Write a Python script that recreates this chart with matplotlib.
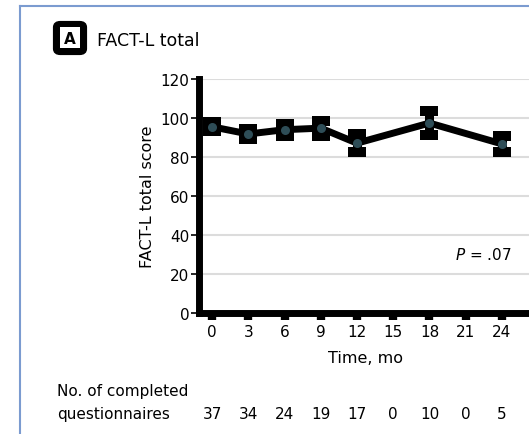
import matplotlib
matplotlib.use('Agg')
import matplotlib.pyplot as plt
import numpy as np
from matplotlib.patches import FancyBboxPatch, Rectangle
from matplotlib.lines import Line2D

# ---- data ----
months = [0, 3, 6, 9, 12, 18, 24]
scores = [95.5, 91.8, 94.0, 94.8, 87.1, 97.4, 86.7]
errors = [2.3, 2.6, 3.0, 3.8, 4.7, 6.2, 4.3]
tick_months = [0, 3, 6, 9, 12, 15, 18, 21, 24]
completed = [37, 34, 24, 19, 17, 0, 10, 0, 5]
yticks = [0, 20, 40, 60, 80, 100, 120]
title = "FACT-L total"
panel = "A"
ylabel = "FACT-L total score"
xlabel = "Time, mo"
pval = r"$P$ = .07"

W, H = 529, 435
DPI = 100
plt.rcParams['font.family'] = ['DejaVu Sans']
plt.rcParams['mathtext.fontset'] = 'dejavusans'
fig = plt.figure(figsize=(W / DPI, H / DPI), dpi=DPI)

def fx(px):
    return px / W

def fy(py):
    return 1 - py / H

# axes placement (pixels)
left_px, top_px, bottom_px = 199, 80, 314
x0, x1 = -1.08, 26.5
px_per = 12.08
width_px = (x1 - x0) * px_per
ax = fig.add_axes([fx(left_px), fy(bottom_px), width_px / W, (bottom_px - top_px) / H])
ax.set_xlim(x0, x1)
ax.set_ylim(0, 120)

for y in yticks[1:]:
    ax.axhline(y, color='#dcdcdc', lw=1.5, zorder=0)

sc = np.array(scores)
er = np.array(errors)
# stems
ax.vlines(months, sc - er, sc + er, color='black', lw=6.5, zorder=3)
# caps (wide flat rectangles)
cap_marker = [(-1.7, -1.0), (1.7, -1.0), (1.7, 1.0), (-1.7, 1.0), (-1.7, -1.0)]
ax.plot(months, sc + er, ls='none', marker=cap_marker, ms=12.4, mfc='black',
        mec='black', mew=0, zorder=3)
ax.plot(months, sc - er, ls='none', marker=cap_marker, ms=12.4, mfc='black',
        mec='black', mew=0, zorder=3)
# line and points
ax.plot(months, scores, color='black', lw=5, zorder=4, solid_capstyle='butt')
ax.plot(months, scores, ls='none', marker='o', ms=6.5, mfc='#2e4d57',
        mec='#2e4d57', mew=0, zorder=5)

for s in ['top', 'right']:
    ax.spines[s].set_visible(False)
for s in ['left', 'bottom']:
    ax.spines[s].set_linewidth(5)
    ax.spines[s].set_capstyle('projecting')

ax.set_yticks(yticks)
ax.set_yticklabels([str(v) for v in yticks])
ax.set_xticks(tick_months)
ax.set_xticklabels([str(v) for v in tick_months])
ax.tick_params(axis='y', length=5.5, width=1.2, labelsize=11, pad=1.5)
ax.tick_params(axis='x', length=5, width=6, labelsize=11, pad=3)
ax.set_ylabel(ylabel, fontsize=11.5, labelpad=4)
ax.set_xlabel(xlabel, fontsize=11.5, labelpad=8)

ax.text(24.8, 30, pval, ha='right', va='center', fontsize=11)

# completed questionnaires row
fig.text(fx(57), fy(392), "No. of completed", ha='left', va='center', fontsize=11)
fig.text(fx(57), fy(415), "questionnaires", ha='left', va='center', fontsize=11)
for m, c in zip(tick_months, completed):
    xp = left_px + (m - x0) * px_per
    fig.text(fx(xp), fy(415), str(c), ha='center', va='center', fontsize=11)

# panel frame
fig.add_artist(Line2D([fx(20), fx(20)], [fy(7), 0], color='#7b9bd0', lw=1.5))
fig.add_artist(Line2D([fx(20), 1], [fy(7), fy(7)], color='#7b9bd0', lw=1.5))

# panel label box
fig.add_artist(FancyBboxPatch((fx(55), fy(54)), fx(30), 30 / H,
                              boxstyle='round,pad=0,rounding_size=0.01',
                              facecolor='black', edgecolor='black', lw=3,
                              transform=fig.transFigure))
fig.add_artist(Rectangle((fx(60), fy(49)), fx(20), 21 / H, facecolor='white',
                         edgecolor='none', transform=fig.transFigure))
fig.text(fx(70), fy(39.5), panel, ha='center', va='center', fontsize=11,
         fontweight='bold', color='black')
fig.text(fx(97), fy(41), title, ha='left', va='center', fontsize=12.5)

fig.savefig('out.png', dpi=DPI)
